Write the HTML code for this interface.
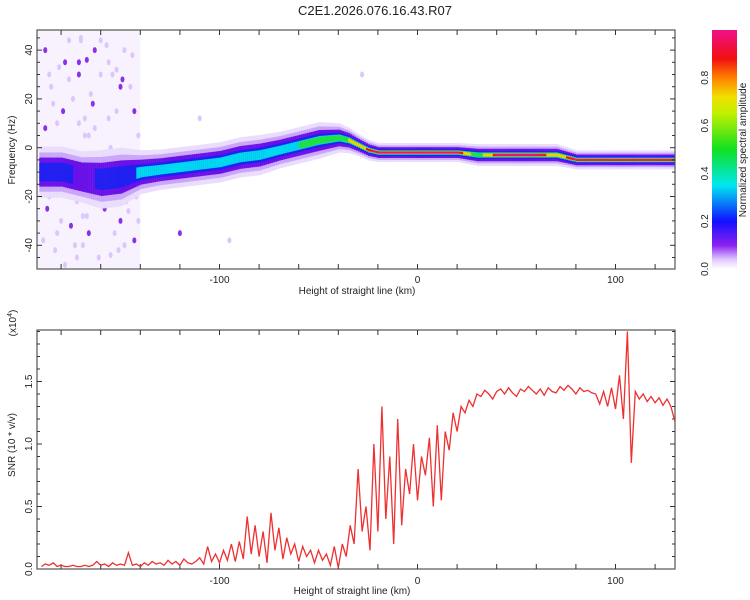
<!DOCTYPE html>
<html><head><meta charset="utf-8"><style>
body{margin:0;background:#fff;font-family:"Liberation Sans",sans-serif}
svg{display:block}
text{font-family:"Liberation Sans",sans-serif;fill:#222}
</style></head><body>
<svg id="s" width="750" height="600">
<defs>
<linearGradient id="cb" x1="0" y1="1" x2="0" y2="0">
<stop offset="0" stop-color="#ffffff"/><stop offset="0.04" stop-color="#e0c8ff"/><stop offset="0.1" stop-color="#8a20f0"/>
<stop offset="0.2" stop-color="#1010ff"/><stop offset="0.35" stop-color="#00e8f0"/><stop offset="0.5" stop-color="#10e020"/>
<stop offset="0.65" stop-color="#c0f000"/><stop offset="0.72" stop-color="#f0e000"/><stop offset="0.8" stop-color="#ff8000"/>
<stop offset="0.88" stop-color="#f01010"/><stop offset="1" stop-color="#f0108a"/></linearGradient>
<clipPath id="c1"><rect x="37" y="30" width="638" height="239"/></clipPath>
<clipPath id="c2"><rect x="37" y="330" width="638" height="239"/></clipPath>
</defs>
<text x="375" y="15" text-anchor="middle" font-size="13">C2E1.2026.076.16.43.R07</text>
</svg>
<script>
// ---- data ----
const ridgeKm   = [-190,-180,-170,-160,-150,-140,-130,-120,-110,-100,-90,-80,-70,-60,-50,-40,-35,-30,-25,-20,-10,0,10,20,30,40,50,60,70,80,90,100,110,120,130];
const ridgeFreq = [-10,-10,-12,-13,-12,-10,-9,-8,-7,-6,-4,-3,-1,1,3,4,3,1,-1,-2,-2,-2,-2,-2,-3,-3,-3,-3,-3,-5,-5,-5,-5,-5,-5];
const ridgeAmp  = [0.3,0.3,0.2,0.28,0.26,0.38,0.4,0.38,0.4,0.38,0.42,0.4,0.45,0.5,0.55,0.6,0.7,0.75,0.9,0.95,0.95,0.95,0.95,0.92,0.6,0.95,0.95,0.92,0.75,0.95,0.95,0.95,0.95,0.95,0.95];
const ridgeWidth= [7,7,7,8,8,6,5.5,5.5,5.5,5.5,5.5,5.5,5,5,5,4,3.5,3,2.8,2.6,2.6,2.6,2.6,2.6,3,3,3,3,3,2.6,2.6,2.6,2.6,2.6,2.6];
const noiseKm   = [-188,-185,-182,-180,-178,-176,-174,-172,-171,-170,-169,-168,-166,-165,-163,-160,-158,-156,-155,-152,-150,-148,-146,-145,-143,-141,-186,-183,-177,-173,-170,-167,-164,-161,-157,-153,-149,-144,-142,-175,-171,-168,-168,-189,-179,-162,-154,-151,-120,-110,-95,-28,
                   -187,-184,-181,-179,-175,-173,-169,-166,-163,-159,-156,-153,-150,-147,-144,-141,-188,-182,-176,-172,-165,-160,-155,-148,-143,-186,-178,-171,-167,-158,-152,-146];
const noiseFreq = [40,25,10,-30,35,44,20,-22,30,44,-40,12,-35,22,8,30,-25,35,-44,15,-30,40,-15,25,-38,5,-20,-42,-5,-10,45,-28,18,-45,42,-35,28,-8,-20,-12,35,5,-18,-38,15,-5,30,-42,-35,12,-38,30,
                   -25,18,33,-12,-32,-40,-28,5,40,-18,12,-8,25,-22,38,-30,8,-35,28,-45,-20,44,0,-40,15,30,-48,10,36,-12,32,-26];
const snrKm0 = -190, snrStep = 2;
const snrVals = [0.02,0.04,0.03,0.05,0.02,0.03,0.02,0.02,0.03,0.02,0.02,0.03,0.02,0.03,0.06,0.03,0.04,0.02,0.05,0.03,0.04,0.03,0.13,0.03,0.04,0.02,0.05,0.03,0.06,0.04,
0.05,0.03,0.07,0.04,0.06,0.03,0.08,0.05,0.04,0.06,
0.09,0.04,0.18,0.06,0.12,0.05,0.15,0.07,0.2,0.06,
0.22,0.08,0.42,0.12,0.35,0.1,0.3,0.05,0.45,0.15,
0.33,0.08,0.25,0.12,0.2,0.06,0.18,0.1,0.15,0.05,
0.15,0.07,0.12,0.03,0.18,0.01,0.2,0.1,0.35,0.2,
0.8,0.3,0.5,0.15,1.0,0.3,1.3,0.4,0.9,0.2,
1.2,0.35,0.8,0.6,1.0,0.55,0.9,0.75,1.05,0.5,
1.15,0.55,1.1,0.95,1.25,1.1,1.3,1.25,1.35,1.3,
1.4,1.38,1.43,1.4,1.36,1.42,1.44,1.4,1.45,1.41,1.38,1.44,1.42,1.46,1.43,1.4,1.44,1.39,1.45,1.42,1.41,1.46,1.43,1.47,1.44,1.4,1.45,1.42,1.43,1.41,
1.4,1.32,1.42,1.3,1.45,1.28,1.55,1.2,1.9,0.85,
1.42,1.36,1.4,1.34,1.38,1.33,1.37,1.31,1.36,1.3,1.18];
const xTicks1 = [-100,0,100], yTicks1 = [40,20,0,-20,-40], yTicks2 = [0.0,0.5,1.0,1.5], cbTicks=[0.0,0.2,0.4,0.6,0.8];

// ---- scales ----
const L=37,R=675,T1=30,B1=269,T2=330,B2=569;
const xs = k => 417.5 + (k)*1.98;
const y1 = f => 147.7 - f*2.44;
const y2 = v => 569 - v*125;
const NS="http://www.w3.org/2000/svg", svg=document.getElementById('s');
function mk(tag,at,parent){const e=document.createElementNS(NS,tag);for(const k in at)e.setAttribute(k,at[k]);(parent||svg).appendChild(e);return e;}

// ---- spectrogram ----
const g1=mk('g',{'clip-path':'url(#c1)'});


const haze=mk('rect',{x:xs(-192),y:T1,width:xs(-140)-xs(-192),height:B1-T1,fill:'#f8f2fe'},g1);


noiseKm.forEach((k,i)=>{const c=mk('ellipse',{cx:xs(k),cy:y1(noiseFreq[i]),rx:2,ry:3,fill:i%4==0?'#8a30e8':'#dcc6fb'},g1);

});
const layers=[[0,1.5,'#eadcfd'],[0.1,1.15,'#c9a6f8'],[0.15,0.85,'#6a10e8'],[0.25,0.55,'#2020f0'],[0.35,0.36,'#00d8f0'],[0.5,0.28,'#20e040'],[0.7,0.22,'#f0d000'],[0.85,0.17,'#f01818'],[0.92,0.1,'#f01090']];
function interp(arr,k){for(let i=0;i<ridgeKm.length-1;i++){if(k<=ridgeKm[i+1]){const t=(k-ridgeKm[i])/(ridgeKm[i+1]-ridgeKm[i]);return arr[i]+(arr[i+1]-arr[i])*t;}}return arr[arr.length-1];}
layers.forEach(([th,wf,col])=>{
  for(let k=-191;k<131;k+=1){
    const a=interp(ridgeAmp,k); if(a<th) continue;
    const f=interp(ridgeFreq,k), w=interp(ridgeWidth,k)*wf;
    const r=mk('rect',{x:xs(k),y:y1(f+w),width:2.1,height:Math.max(1,w*2*2.44),fill:col},g1);
    
    
  }
});

// ---- axes frame helper ----
function frame(T,B,name){
  const r=mk('rect',{x:L,y:T,width:R-L,height:B-T,fill:'none',stroke:'#555','stroke-width':1.2});
  
  
  for(let k=-180;k<=120;k+=20){mk('line',{x1:xs(k),x2:xs(k),y1:T,y2:T+5,stroke:'#333'});mk('line',{x1:xs(k),x2:xs(k),y1:B,y2:B-5,stroke:'#333'});}
}
frame(T1,B1,'spectrogram-frame');
for(let f=-45;f<=45;f+=5){const l=f%20==0?5:3;mk('line',{x1:L,x2:L+l,y1:y1(f),y2:y1(f),stroke:'#333'});mk('line',{x1:R,x2:R-l,y1:y1(f),y2:y1(f),stroke:'#333'});}
yTicks1.forEach(v=>{const t=mk('text',{x:0,y:0,'font-size':10,'text-anchor':'middle',transform:`translate(32,${y1(v)}) rotate(-90)`});t.textContent=v;

});
xTicks1.forEach(v=>{const t=mk('text',{x:xs(v),y:283,'font-size':10,'text-anchor':'middle'});t.textContent=v;

});
let t=mk('text',{x:357,y:294,'font-size':10,'text-anchor':'middle'});t.textContent='Height of straight line (km)';


t=mk('text',{x:0,y:0,'font-size':10,'text-anchor':'middle',transform:'translate(15,150) rotate(-90)'});t.textContent='Frequency (Hz)';



// ---- colorbar ----
const cb=mk('rect',{x:712,y:30,width:25,height:239,fill:'url(#cb)'});


cbTicks.forEach(v=>{const yy=269-v*239;const tt=mk('text',{x:0,y:0,'font-size':10,'text-anchor':'middle',transform:`translate(708,${yy}) rotate(-90)`});tt.textContent=v.toFixed(1);

});
t=mk('text',{x:0,y:0,'font-size':10,'text-anchor':'middle',transform:'translate(746,150) rotate(-90)'});t.textContent='Normalized spectral amplitude';



// ---- SNR line ----
frame(T2,B2,'snr-frame');
for(let v=0.1;v<1.95;v+=0.1){const l=Math.abs(v*2-Math.round(v*2))<0.01?5:3;mk('line',{x1:L,x2:L+l,y1:y2(v),y2:y2(v),stroke:'#333'});mk('line',{x1:R,x2:R-l,y1:y2(v),y2:y2(v),stroke:'#333'});}
const pts=snrVals.map((v,i)=>xs(snrKm0+i*snrStep).toFixed(1)+','+y2(v).toFixed(1)).join(' ');
const pl=mk('polyline',{points:pts,fill:'none',stroke:'#ee3030','stroke-width':1.3,'clip-path':'url(#c2)'});


yTicks2.forEach(v=>{const tt=mk('text',{x:0,y:0,'font-size':10,'text-anchor':'middle',transform:`translate(32,${y2(v)}) rotate(-90)`});tt.textContent=v.toFixed(1);

});
xTicks1.forEach(v=>{const tt=mk('text',{x:xs(v),y:584,'font-size':10,'text-anchor':'middle'});tt.textContent=v;

});
t=mk('text',{x:352,y:594,'font-size':10,'text-anchor':'middle'});t.textContent='Height of straight line (km)';


t=mk('text',{x:0,y:0,'font-size':10,'text-anchor':'middle',transform:'translate(15,445) rotate(-90)'});t.textContent='SNR (10 * v/v)';


t=mk('text',{x:0,y:0,'font-size':10,'text-anchor':'middle',transform:'translate(16,323) rotate(-90)'});t.innerHTML='(x10<tspan dy="-4" font-size="7">4</tspan><tspan dy="4">)</tspan>';


</script>
</body></html>
